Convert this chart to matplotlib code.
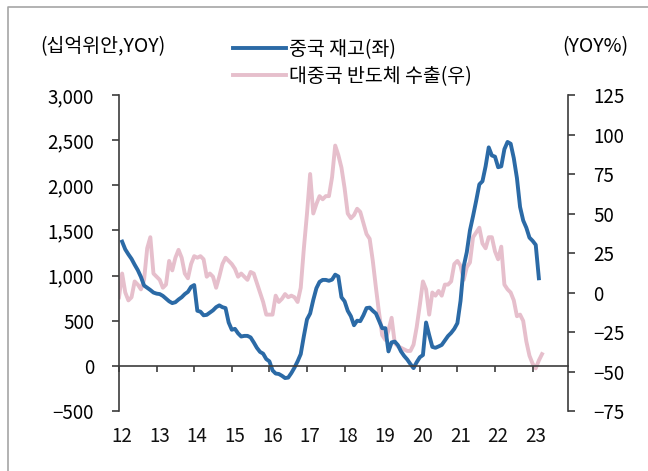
#!/usr/bin/env python3

# China inventory vs. Korean chip exports to China

import matplotlib.pyplot as plt
from matplotlib.lines import Line2D
from matplotlib.ticker import FuncFormatter
import numpy as np

plt.rcParams['font.family'] = ['Noto Sans CJK KR', 'DejaVu Sans']

year_labels = ['12', '13', '14', '15', '16', '17', '18', '19', '20', '21', '22', '23']

# 중국 재고 (십억위안), monthly from Feb 2012
inventory_first_month = 1
inventory = [
    1376, 1290, 1235, 1185, 1120, 1060, 985, 890, 865, 840, 812,          # 2012
    800, 795, 775, 745, 715, 695, 705, 735, 760, 795, 820, 875,           # 2013
    895, 610, 600, 560, 565, 590, 615, 650, 670, 650, 640, 480,           # 2014
    400, 410, 360, 325, 332, 332, 315, 260, 200, 155, 135, 75,            # 2015
    50, -50, -85, -90, -110, -135, -130, -80, -20, 50, 130, 330,          # 2016
    515, 580, 730, 860, 930, 952, 952, 942, 955, 1010, 990, 760,          # 2017
    715, 610, 550, 450, 500, 495, 560, 640, 645, 610, 580, 500,           # 2018
    417, 417, 160, 260, 269, 230, 160, 110, 70, 20, -25, 40,              # 2019
    95, 120, 480, 340, 210, 200, 215, 232, 280, 330, 365, 410,            # 2020
    473, 720, 1100, 1260, 1500, 1660, 1830, 2010, 2045, 2210, 2420, 2330, # 2021
    2317, 2200, 2210, 2400, 2480, 2460, 2300, 2080, 1760, 1610, 1530, 1420,  # 2022
    1385, 1340, 970,                                                      # 2023
]

# 대중국 반도체 수출 (YOY%), monthly from Jan 2012
export_first_month = 0
export_yoy = [
    -3, 12, 0, -5, -3, 7, 5, 2, 8, 28, 35, 12,          # 2012
    10, 8, 3, 5, 20, 14, 22, 27, 22, 12, 9, 18,         # 2013
    23, 22, 23, 21, 10, 12, 10, 3, 10, 18, 22, 20,      # 2014
    18, 15, 10, 12, 10, 8, 13, 12, 6, 0, -6, -14,       # 2015
    -14, -14, -2, -6, -4, -1, -3, -2, -3, -6, 3, 28,    # 2016
    50, 75, 50, 56, 61, 59, 61, 61, 73, 93, 87, 79,     # 2017
    66, 50, 47, 49, 53, 51, 44, 37, 34, 20, 3, -13,     # 2018
    -27, -30, -24, -16, -32, -34, -35, -36, -37, -37, -33, -22,  # 2019
    -8, 7, 2, -14, 0, -2, 1, -2, 5, 5, 7, 18,           # 2020
    20, 17, 8, 16, 19, 35, 38, 41, 31, 28, 35, 35,      # 2021
    26, 21, 29, 5, 2, 0, -5, -15, -14, -18, -31, -40,   # 2022
    -45, -48, -43, -39,                                 # 2023
]

BLUE = '#2b6aa6'
PINK = '#e6bfcc'
AXIS = '#3c3c3c'


def month_axis(first, n):
    return 2012 + (first + np.arange(n)) / 12


def plot_results():
    fig = plt.figure(figsize=(6.48, 4.71), dpi=100)
    ax = fig.add_axes([119 / 648, 1 - 411 / 471, 449 / 648, 316 / 471])
    ax2 = ax.twinx()

    x_inv = month_axis(inventory_first_month, len(inventory))
    x_exp = month_axis(export_first_month, len(export_yoy))

    l2, = ax2.plot(x_exp, export_yoy, color=PINK, lw=2.8, solid_joinstyle='round')
    l1, = ax.plot(x_inv, inventory, color=BLUE, lw=2.8, solid_joinstyle='round')
    ax.set_zorder(ax2.get_zorder() + 1)
    ax.patch.set_visible(False)

    ax.set_xlim(2012, 2012 + 449 / 37.6)
    ax.set_ylim(-500, 3000)
    ax2.set_ylim(-75, 125)
    ax.set_yticks(np.arange(-500, 3001, 500))
    ax2.set_yticks(np.arange(-75, 126, 25))
    ax.yaxis.set_major_formatter(FuncFormatter(lambda v, p: f'{v:,.0f}'.replace('-', '\u2212')))
    ax2.yaxis.set_major_formatter(FuncFormatter(lambda v, p: f'{v:.0f}'.replace('-', '\u2212')))

    for s in ['top', 'right']:
        ax.spines[s].set_visible(False)
    for s in ['top', 'left', 'bottom']:
        ax2.spines[s].set_visible(False)
    ax.spines['bottom'].set_position(('data', 0))
    for sp in [ax.spines['left'], ax.spines['bottom'], ax2.spines['right']]:
        sp.set_color(AXIS)
        sp.set_linewidth(1.2)

    years = 2012 + np.arange(len(year_labels))
    ax.set_xticks(years)
    ax.tick_params(axis='x', direction='out', length=4, width=1.2, color=AXIS, labelbottom=False)
    ax.tick_params(axis='y', direction='out', length=5, width=1.2, color=AXIS, pad=13, labelsize=13.5)
    ax2.tick_params(axis='y', direction='out', length=5, width=1.2, color=AXIS, pad=13, labelsize=13.5)

    for yr, lab in zip(years, year_labels):
        ax.text(yr + 0.08, -0.082, lab, transform=ax.get_xaxis_transform(),
                ha='center', va='center', fontsize=13.5, color='#111111')

    fig.text(40 / 648, 1 - 47 / 471, '(십억위안,YOY)', ha='left', va='center', fontsize=14)
    fig.text(628 / 648, 1 - 47 / 471, '(YOY%)', ha='right', va='center', fontsize=14)

    ax.legend(handles=[l1, l2], labels=['중국 재고(좌)', '대중국 반도체 수출(우)'],
              loc='upper left', bbox_to_anchor=(233 / 648, 1 - 39 / 471),
              bbox_transform=fig.transFigure, frameon=False, fontsize=14,
              handlelength=2.7, handletextpad=0.2, borderpad=0, borderaxespad=0,
              labelspacing=0.3)

    # grey frame
    fx, fy = 8 / 648, 1 - 7 / 471
    fig.add_artist(Line2D([fx, fx, 1.0], [0, fy, fy], color='#a6a6a6', lw=1.2,
                          transform=fig.transFigure))

    fig.savefig('out.png', dpi=100)


if __name__ == '__main__':
    plot_results()
